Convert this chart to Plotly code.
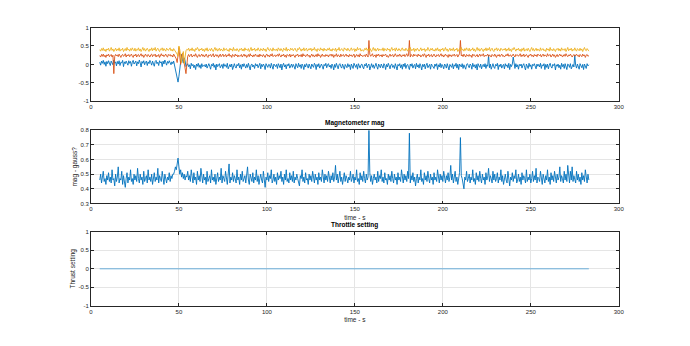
import plotly.graph_objects as go

# ---------------- data ----------------
# samples every 0.5 s from 5 s to 283 s (557 samples); values below in hundredths,
# each row = 10 s of data
time_s = [5 + 0.5 * i for i in range(557)]

att_blue_c = [
    6,-2,9,3,11,0,7,-5,8,2,10,4,-3,9,5,-1,12,3,7,-4,
    8,1,10,-3,6,4,11,-6,7,2,9,5,-2,10,3,8,-5,6,11,1,
    5,9,-4,7,2,12,4,-7,8,3,10,-1,6,9,-3,7,2,11,5,-2,
    9,3,-5,8,11,2,6,-3,10,4,7,-6,9,1,12,5,-2,8,3,10,
    4,-1,7,2,9,-3,-8,-18,-38,-48,-32,-8,20,27,12,4,18,10,-6,-2,
    2,-6,-1,-12,3,-4,0,-9,-2,-14,1,-5,3,-8,-1,-11,2,-6,-3,-1,
    -7,1,-10,-3,2,-5,-13,0,-4,3,-8,-1,-15,1,-6,-2,2,-9,-4,0,
    -11,2,-5,-1,-8,3,-12,-3,0,-7,1,-14,-2,2,-6,-10,0,-4,3,-9,
    -1,-13,1,-6,2,-3,-10,0,-8,3,-5,-15,-1,1,-7,-2,-11,2,-4,0,
    -9,-2,3,-12,0,-6,1,-4,-14,2,-3,-8,0,-1,-10,3,-5,-13,1,-2,
    -6,0,-11,2,-3,-9,1,-15,-2,3,-7,-1,-12,0,-4,2,-10,-3,1,-8,
    0,-5,-13,2,-2,-9,3,-6,-1,-11,1,-4,-14,0,-7,2,-3,-10,1,-5,
    -12,1,-3,-8,3,-1,-14,0,-6,2,-10,-2,1,-5,-13,0,-4,3,-9,-1,
    2,-7,-2,-11,1,-4,-15,0,-8,3,-3,-12,-1,2,-6,-10,1,-5,-13,0,
    -3,-9,2,-6,-1,-14,1,-4,-11,3,-2,-8,0,-13,2,-5,-10,-1,1,-7,
    -12,0,-4,3,-9,-2,1,-15,-5,2,-8,-1,-11,0,3,-6,-13,1,-3,-9,
    1,-5,-10,2,-2,-14,0,-7,3,-4,-12,-1,1,-8,-3,-11,2,-6,-15,0,
    -4,2,-9,-1,-13,1,-6,3,-11,-2,0,-8,-14,1,-5,2,-10,-3,0,-12,
    3,-7,-1,-10,2,-4,-15,0,-6,1,-12,-2,3,-9,-5,0,-13,1,-3,-8,
    -11,1,-5,2,-14,-1,-7,3,-9,0,-4,-12,1,-2,-10,2,-6,-15,0,-3,
    -8,2,-12,-1,-5,3,-10,0,-14,1,-3,-7,2,-11,-1,-6,-13,0,2,-4,
    -9,1,-2,-13,3,-6,-1,-10,0,-15,2,-4,-8,1,-12,-3,0,-7,2,-11,
    -1,-5,25,-9,1,-13,-2,2,-7,-11,0,-4,3,-14,-1,-6,1,-10,-3,0,
    -12,2,-5,-1,-9,3,-14,0,-6,1,20,-3,-11,2,-7,-1,-13,0,-4,1,
    -10,-2,2,-8,-15,1,-4,-11,3,-6,-1,-13,0,-3,2,-9,-12,1,-5,0,
    -7,3,-11,-1,-4,2,-14,0,-8,1,-12,-2,3,-6,-10,0,-3,2,-15,-1,
    -5,1,-9,-2,-13,3,-6,0,-11,2,-4,-14,1,-1,-8,2,-12,-3,0,-7,
    25,-2,-10,1,-6,-13,2,-3,-9,0,-14,1,-5,-11,2,-4,-1,
]

att_orange_c = [
    24,20,27,22,28,21,25,19,26,23,28,21,24,27,20,25,-25,22,27,23,
    26,21,28,23,19,25,27,22,24,29,20,26,23,27,21,25,28,22,19,26,
    23,28,20,25,27,21,24,29,22,26,19,25,28,23,21,27,24,20,26,28,
    21,26,24,28,20,25,22,27,19,24,29,23,26,21,25,28,22,20,27,24,
    27,22,25,20,28,23,21,15,5,30,46,20,0,25,30,15,5,-10,-25,10,
    22,27,21,25,28,20,24,26,22,29,23,19,25,27,21,24,28,22,26,20,
    25,28,22,19,26,24,27,21,25,29,20,23,27,22,26,19,24,28,21,25,
    28,21,24,27,20,26,23,29,22,25,19,27,24,21,28,23,26,20,25,22,
    23,27,20,25,28,22,26,19,24,27,21,29,23,25,20,26,22,28,24,21,
    26,20,28,23,25,21,27,24,19,26,28,22,25,20,27,23,29,21,24,26,
    21,25,27,22,29,24,20,26,23,28,21,25,19,27,24,22,28,20,26,23,
    27,23,19,26,24,28,21,25,22,27,20,29,23,26,21,24,28,22,25,19,
    24,28,22,26,20,25,27,21,29,23,26,19,24,28,22,25,21,27,23,26,
    20,26,24,28,22,27,19,25,23,29,21,26,24,20,28,22,25,27,21,24,
    28,22,25,20,27,23,26,21,24,28,19,25,27,22,26,20,29,23,25,21,
    23,26,21,28,24,20,65,27,22,25,29,21,24,26,19,27,23,28,22,25,
    26,20,27,23,25,28,21,24,19,26,28,22,25,27,20,24,29,23,21,26,
    22,28,24,20,26,23,27,21,25,29,22,24,65,20,27,25,21,28,23,26,
    25,21,28,23,26,20,24,27,22,29,25,19,26,23,28,21,24,27,20,25,
    28,23,20,26,24,27,21,25,29,22,26,20,24,28,23,25,19,27,22,26,
    21,26,24,28,22,25,27,20,24,29,65,23,26,21,28,24,20,27,25,22,
    27,22,25,19,28,24,26,21,23,27,20,25,28,22,26,24,29,21,25,23,
    24,28,21,26,23,20,27,25,22,28,24,19,26,23,27,21,25,28,22,24,
    20,25,27,23,29,22,24,26,21,25,28,23,20,27,24,26,22,25,29,21,
    26,22,28,21,25,27,23,19,26,24,28,22,25,20,27,23,26,21,28,24,
    23,27,20,25,28,22,26,24,21,29,23,25,27,20,24,28,22,26,19,25,
    27,21,24,28,23,26,20,25,27,22,29,24,21,26,23,28,25,20,24,27,
    22,26,28,23,25,20,27,24,21,28,23,26,19,25,27,22,24,
]

att_yellow_c = [
    40,36,43,38,45,37,41,35,42,39,44,36,40,46,38,42,35,41,44,37,
    42,38,45,36,41,39,44,35,40,43,37,46,39,41,36,43,38,45,40,37,
    44,36,41,39,45,37,42,35,40,46,38,43,36,41,44,39,35,42,38,45,
    37,43,39,46,36,41,44,38,35,42,40,45,37,43,39,36,44,41,38,42,
    45,37,41,36,43,39,36,33,28,22,50,40,15,5,25,35,2,30,37,41,
    39,44,36,42,38,45,37,41,35,43,40,46,38,36,42,39,44,37,41,35,
    43,38,45,36,40,42,37,44,39,35,41,46,38,43,36,40,44,37,42,39,
    36,45,38,41,43,37,40,35,44,39,42,36,46,38,41,37,43,39,35,42,
    40,44,37,42,36,45,39,41,38,43,35,40,46,37,42,39,44,36,41,38,
    45,39,36,43,40,37,44,38,42,35,41,46,39,37,43,40,36,45,38,41,
    38,42,36,45,40,37,43,39,35,44,41,38,46,36,42,39,37,44,40,43,
    37,41,44,38,35,43,40,46,39,36,42,38,45,37,41,44,36,40,43,39,
    44,36,42,39,46,38,41,35,43,40,37,45,39,42,36,44,38,41,37,43,
    39,45,37,41,36,43,40,38,44,35,42,39,46,37,40,43,38,36,45,41,
    42,37,44,39,36,41,45,38,40,43,35,42,37,46,39,41,44,36,40,38,
    36,43,40,45,38,42,37,44,39,35,41,46,38,43,36,40,44,37,42,39,
    41,38,45,36,43,40,37,44,39,42,35,41,46,38,40,43,36,45,39,37,
    43,39,36,42,45,38,41,37,44,40,36,43,39,46,37,41,38,44,35,42,
    38,44,41,36,40,45,37,42,39,43,35,41,38,46,40,36,43,39,44,37,
    40,36,43,38,45,37,41,35,42,39,44,36,40,46,38,42,35,41,44,37,
    42,38,45,36,41,39,44,35,40,43,37,46,39,41,36,43,38,45,40,37,
    44,36,41,39,45,37,42,35,40,46,38,43,36,41,44,39,35,42,38,45,
    37,43,39,46,36,41,44,38,35,42,40,45,37,43,39,36,44,41,38,42,
    39,44,36,42,38,45,37,41,35,43,40,46,38,36,42,39,44,37,41,35,
    43,38,45,36,40,42,37,44,39,35,41,46,38,43,36,40,44,37,42,39,
    36,45,38,41,43,37,40,35,44,39,42,36,46,38,41,37,43,39,35,42,
    40,44,37,42,36,45,39,41,38,43,35,40,46,37,42,39,44,36,41,38,
    45,39,36,43,40,37,44,38,42,35,41,46,39,37,43,40,36,
]

mag_gauss_c = [
    46,50,44,48,52,45,47,43,49,46,51,45,48,44,53,46,47,42,50,45,
    48,55,44,47,46,52,43,49,45,41,47,51,44,48,46,53,45,47,43,50,
    46,49,45,54,47,44,50,46,48,43,52,45,47,49,44,53,46,48,45,50,
    43,47,51,45,48,46,54,44,49,47,45,52,46,43,50,47,44,48,46,51,
    45,49,47,50,50,52,55,53,58,61,55,50,53,48,51,47,50,46,49,48,
    52,46,49,45,53,47,44,51,46,48,43,52,46,49,45,54,47,44,50,46,
    48,43,52,45,47,49,44,53,46,48,45,50,43,47,51,45,48,46,54,44,
    49,47,45,52,46,43,50,57,44,48,46,51,45,49,47,44,53,46,48,43,
    50,46,52,45,47,49,44,48,55,46,43,50,47,45,51,44,48,46,53,45,
    49,43,47,50,46,44,52,45,41,48,46,51,45,49,47,53,44,46,50,45,
    48,43,51,46,49,47,52,45,48,43,50,46,53,45,47,44,51,46,49,45,
    52,44,48,46,50,47,45,42,49,47,53,45,48,44,51,46,47,43,50,46,
    49,45,52,47,44,50,46,48,43,51,46,48,45,53,47,44,50,46,49,45,
    52,47,44,49,46,51,45,48,56,46,50,44,47,52,45,48,43,46,51,45,
    49,47,44,48,46,52,45,47,50,44,48,46,53,45,47,43,51,46,49,45,
    52,47,44,50,46,48,80,51,45,49,43,47,50,46,48,44,52,45,49,47,
    53,45,48,44,51,46,47,43,50,46,49,45,52,47,44,50,46,48,43,51,
    46,48,45,53,47,44,50,46,49,45,52,47,78,44,49,46,51,45,48,42,
    47,50,44,48,46,53,45,47,43,51,46,49,45,52,47,44,50,46,48,43,
    51,46,48,45,53,47,44,50,46,49,45,52,47,44,49,46,51,45,48,56,
    46,50,44,47,52,45,48,43,46,51,75,49,47,44,40,48,46,52,45,47,
    50,44,48,46,53,45,47,43,51,46,49,45,52,47,44,50,46,48,43,51,
    46,48,54,45,49,47,44,52,46,50,45,47,51,44,48,46,53,45,49,43,
    47,50,46,44,52,45,42,48,46,51,45,49,47,53,44,46,50,45,48,43,
    51,46,49,47,44,53,45,48,46,50,44,47,52,45,49,46,54,44,48,47,
    45,52,46,43,50,47,44,49,46,53,45,48,43,51,46,49,45,52,47,44,
    50,46,48,55,45,49,47,44,52,46,50,45,56,47,44,52,46,55,45,49,
    47,44,52,46,50,45,48,43,51,46,49,45,53,47,44,50,46,
]

throttle_time = [5, 283]
throttle_setting = [0.0, 0.0]

x_ticks = [0, 50, 100, 150, 200, 250, 300]
y_ticks_att = [-1, -0.5, 0, 0.5, 1]
y_ticks_mag = [0.3, 0.4, 0.5, 0.6, 0.7, 0.8]
y_ticks_thr = [-1, -0.5, 0, 0.5, 1]

att_blue = [v / 100 for v in att_blue_c]
att_orange = [v / 100 for v in att_orange_c]
att_yellow = [v / 100 for v in att_yellow_c]
mag_gauss = [v / 100 for v in mag_gauss_c]

# ---------------- figure ----------------
BLUE = "#0072BD"
ORANGE = "#D95319"
YELLOW = "#EDB120"
FONT = "Liberation Sans, Arial, sans-serif"
W, H = 690, 346
LW = 0.9

fig = go.Figure()
fig.add_trace(go.Scatter(x=time_s, y=att_blue, mode="lines",
                         line=dict(color=BLUE, width=LW), xaxis="x", yaxis="y"))
fig.add_trace(go.Scatter(x=time_s, y=att_orange, mode="lines",
                         line=dict(color=ORANGE, width=LW), xaxis="x", yaxis="y"))
fig.add_trace(go.Scatter(x=time_s, y=att_yellow, mode="lines",
                         line=dict(color=YELLOW, width=LW), xaxis="x", yaxis="y"))
fig.add_trace(go.Scatter(x=time_s, y=mag_gauss, mode="lines",
                         line=dict(color=BLUE, width=LW), xaxis="x2", yaxis="y2"))
fig.add_trace(go.Scatter(x=throttle_time, y=throttle_setting, mode="lines",
                         line=dict(color="#4a9fd8", width=0.8), xaxis="x3", yaxis="y3"))

xdom = [90 / W, 624 / W]
def ydom(top, bottom):
    return [1 - bottom / H, 1 - top / H]

axis_common = dict(
    showline=True, linecolor="#262626", linewidth=0.6, mirror="ticks",
    ticks="inside", ticklen=3, tickwidth=0.6, tickcolor="#262626",
    tickfont=dict(family=FONT, size=6, color="#262626"),
    zeroline=False, gridcolor="#e5e5e5", gridwidth=0.6,
)

def xaxis(anchor, grid, title=None):
    d = dict(axis_common, domain=xdom, anchor=anchor, range=[0, 300],
             tickvals=x_ticks, ticktext=[str(v) for v in x_ticks], showgrid=grid)
    if title:
        d["title"] = dict(text=title, font=dict(family=FONT, size=6.5, color="#262626"),
                          standoff=3)
    return d

def yaxis(anchor, dom, rng, ticks, grid, title=None):
    d = dict(axis_common, domain=dom, anchor=anchor, range=rng, tickvals=ticks,
             ticktext=[("%g" % v) for v in ticks], showgrid=grid)
    if title:
        d["title"] = dict(text=title, font=dict(family=FONT, size=6.5, color="#262626"),
                          standoff=2)
    return d

fig.update_layout(
    width=W, height=H, margin=dict(l=0, r=0, t=0, b=0),
    paper_bgcolor="white", plot_bgcolor="white", showlegend=False,
    xaxis=xaxis("y", False),
    yaxis=yaxis("x", ydom(25, 100), [-1, 1], y_ticks_att, False),
    xaxis2=xaxis("y2", True, "time - s"),
    yaxis2=yaxis("x2", ydom(129.5, 204), [0.3, 0.8], y_ticks_mag, True, "mag - gauss?"),
    xaxis3=xaxis("y3", True, "time - s"),
    yaxis3=yaxis("x3", ydom(233, 308), [-1, 1], y_ticks_thr, True, "Thrust setting"),
    annotations=[
        dict(text="<b>Magnetometer mag</b>", x=357 / W, y=1 - 128.5 / H, xref="paper",
             yref="paper", showarrow=False, yanchor="bottom", xanchor="center",
             font=dict(family=FONT, size=6.5, color="black")),
        dict(text="<b>Throttle setting</b>", x=357 / W, y=1 - 232 / H, xref="paper",
             yref="paper", showarrow=False, yanchor="bottom", xanchor="center",
             font=dict(family=FONT, size=6.5, color="black")),
    ],
)

fig.write_html("out.html")
